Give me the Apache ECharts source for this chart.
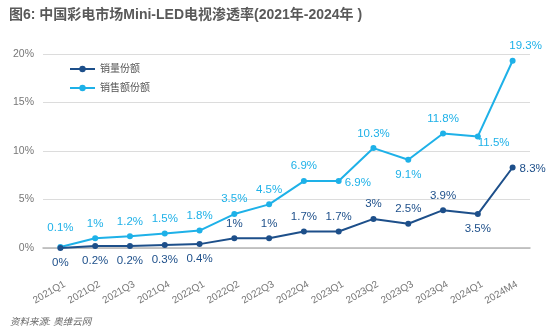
<!DOCTYPE html>
<html><head><meta charset="utf-8">
<script src="https://cdn.jsdelivr.net/npm/echarts@6/dist/echarts.min.js"></script>
<style>html,body{margin:0;padding:0;background:#fff}#c{width:550px;height:332px}</style>
</head><body><div id="c"></div>
<script>
const categories = ['2021Q1','2021Q2','2021Q3','2021Q4','2022Q1','2022Q2','2022Q3','2022Q4','2023Q1','2023Q2','2023Q3','2023Q4','2024Q1','2024M4'];
const volumeShare = [0, 0.2, 0.2, 0.3, 0.4, 1, 1, 1.7, 1.7, 3, 2.5, 3.9, 3.5, 8.3];
const valueShare = [0.1, 1, 1.2, 1.5, 1.8, 3.5, 4.5, 6.9, 6.9, 10.3, 9.1, 11.8, 11.5, 19.3];
const volumeLabelPos = ['bottom','bottom','bottom','bottom','bottom','top','top','top','top','top','top','top','bottom','right'];
const valueLabelPos = ['top','top','top','top','top','top','top','top','right','top','bottom','top','right','top'];
const yTicks = [0, 5, 10, 15, 20];

const FONT = '"Liberation Sans", Arial, "Noto Sans CJK SC", sans-serif';
const DARK = '#1d4f8a';
const CYAN = '#1eb1e8';

// per-point label nudges (layout only)
const valueOffsets = {0: [0, -4], 8: [-3, 2], 12: [-9, 6], 13: [13, 0]};
const volumeOffsets = {13: [-2, 1]};

function build(values, pos, offsets) {
  return values.map((v, i) => {
    const lab = { position: pos[i] };
    if (offsets[i]) lab.offset = offsets[i];
    return { value: v, label: lab };
  });
}

const chart = echarts.init(document.getElementById('c'));
chart.setOption({
  animation: false,
  backgroundColor: '#fff',
  title: [
    { text: '图6: 中国彩电市场Mini-LED电视渗透率(2021年-2024年 )', left: 4, top: 3,
      textStyle: { fontFamily: FONT, fontSize: 14, fontWeight: 'bold', color: '#595959' } },
    { text: '资料来源: 奥维云网', left: 5, top: 313,
      textStyle: { fontFamily: FONT, fontSize: 9.5, fontWeight: 'normal', fontStyle: 'italic', color: '#666' } }
  ],
  legend: {
    orient: 'vertical', left: 64, top: 59, itemWidth: 25, itemHeight: 8, itemGap: 9,
    textStyle: { fontFamily: FONT, fontSize: 10, color: '#555' },
    data: ['销量份额', '销售额份额']
  },
  grid: { left: 43, right: 20, top: 54, bottom: 84 },
  xAxis: {
    type: 'category', data: categories, boundaryGap: true,
    axisLine: { lineStyle: { color: '#b5b5b5', width: 1.5 } },
    axisTick: { show: false },
    axisLabel: { rotate: 30, fontFamily: FONT, fontSize: 10, color: '#777', interval: 0, margin: 38,
                 padding: [0, -5, 0, 0] }
  },
  yAxis: {
    type: 'value', min: yTicks[0], max: yTicks[yTicks.length - 1], interval: 5,
    axisLine: { show: false }, axisTick: { show: false },
    axisLabel: { formatter: '{value}%', fontFamily: FONT, fontSize: 10.5, color: '#777', margin: 9 },
    splitLine: { lineStyle: { color: '#dcdcdc', width: 1 } }
  },
  series: [
    { name: '销量份额', type: 'line', data: build(volumeShare, volumeLabelPos, volumeOffsets), color: DARK,
      lineStyle: { width: 2, color: DARK }, symbol: 'circle', symbolSize: 6, itemStyle: { color: DARK },
      label: { show: true, formatter: '{c}%', fontFamily: FONT, fontSize: 11.5, color: DARK, distance: 6 }, z: 3 },
    { name: '销售额份额', type: 'line', data: build(valueShare, valueLabelPos, valueOffsets), color: CYAN,
      lineStyle: { width: 2, color: CYAN }, symbol: 'circle', symbolSize: 6, itemStyle: { color: CYAN },
      label: { show: true, formatter: '{c}%', fontFamily: FONT, fontSize: 11.5, color: CYAN, distance: 6 }, z: 2 }
  ]
});
</script></body></html>
